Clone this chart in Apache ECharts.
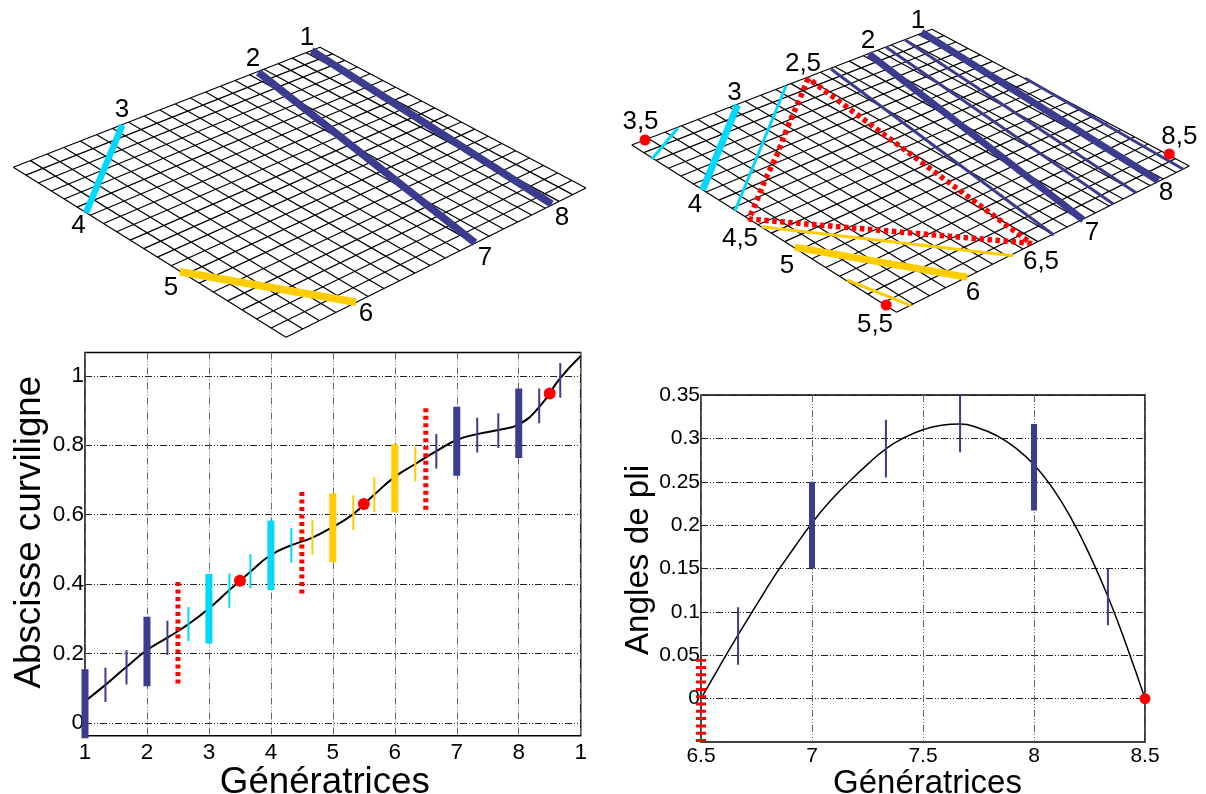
<!DOCTYPE html>
<html><head><meta charset="utf-8">
<style>html,body{margin:0;padding:0;background:#fff}#c{width:1206px;height:794px}</style>
<script src="https://cdn.jsdelivr.net/npm/echarts@6/dist/echarts.min.js"></script>
</head><body><div id="c"></div>
<script>
const BLUE='#3b3b8f',CYAN='#00d8ff',YELLOW='#ffcc00',RED='#ff0000';
const FONT='"Liberation Sans",Arial,sans-serif';

// ---- Abscisse curviligne panel
const xTicksA=[1,2,3,4,5,6,7,8,9];
const xTickLabelsA=['1','2','3','4','5','6','7','8','1'];
const yTicksA=[0,0.2,0.4,0.6,0.8,1];
const curveA=[[1,0.063],[1.33,0.11],[1.67,0.162],[2,0.21],[2.33,0.246],[2.67,0.285],[3,0.33],[3.33,0.383],[3.67,0.436],[4,0.484],[4.33,0.512],[4.67,0.534],[5,0.565],[5.33,0.602],[5.67,0.658],[6,0.709],[6.33,0.746],[6.67,0.783],[7,0.815],[7.33,0.832],[7.67,0.844],[8,0.86],[8.33,0.91],[8.67,0.993],[9,1.057]];
const blueThickA=[[1,-0.044,0.155],[2,0.106,0.306],[7,0.712,0.911],[8,0.763,0.963]];
const cyanThickA=[[3,0.229,0.429],[4,0.383,0.583]];
const yellowThickA=[[5,0.463,0.662],[6,0.606,0.803]];
const blueThinA=[[1.33,0.061,0.159],[1.67,0.111,0.21],[2.33,0.196,0.295],[6.67,0.733,0.832],[7.33,0.779,0.879],[7.67,0.792,0.892],[8.33,0.863,0.963],[8.67,0.937,1.037]];
const cyanThinA=[[2.67,0.236,0.334],[3.33,0.332,0.431],[3.67,0.388,0.487],[4.33,0.462,0.562]];
const yellowThinA=[[4.67,0.485,0.585],[5.33,0.556,0.656],[5.67,0.608,0.708],[6.33,0.696,0.795]];
const redDashA=[[2.5,0.114,0.414],[4.5,0.373,0.673],[6.5,0.614,0.915]];
const redDotsA=[[3.5,0.41],[5.5,0.631],[8.5,0.949]];

// ---- Angles de pli panel
const xTicksB=[6.5,7,7.5,8,8.5];
const yTicksB=[0,0.05,0.1,0.15,0.2,0.25,0.3,0.35];
const curveB=[[6.5,0],[6.583,0.037],[6.667,0.0735],[6.75,0.108],[6.833,0.142],[6.917,0.173],[7,0.2025],[7.083,0.228],[7.167,0.25],[7.25,0.27],[7.333,0.288],[7.417,0.301],[7.5,0.31],[7.583,0.315],[7.667,0.3165],[7.75,0.312],[7.833,0.303],[7.917,0.289],[8,0.2696],[8.083,0.243],[8.167,0.208],[8.25,0.166],[8.333,0.1177],[8.417,0.061],[8.5,0]];
const blueThickB=[[7,0.15,0.25],[8,0.217,0.3165]];
const blueThinB=[[6.667,0.039,0.1054],[7.333,0.255,0.3215],[7.667,0.284,0.35],[8.333,0.0846,0.15]];
const redDashB=[[6.5,-0.05,0.0458]];
const redDotsB=[[8.5,0]];

// ---- Perspective sheets (read in picture units)
const cellsU=20, cellsV=20;
const sheetLeft={left:[13.3,167.3],top:[320,47.3],right:[586,188],bottom:[286,337.3]};
const sheetRight={left:[631.7,145],top:[931.9,29.3],right:[1189.3,166],bottom:[896.5,312.3]};
const leftBlue=[[[311.7,50.7],[551.7,204]],[[258.3,72.3],[475,242.7]]];
const leftCyan=[[[122.3,125],[86,212.7]]];
const leftYellow=[[[180,271.7],[356,302.3]]];
const leftLabels=[['1',307,38],['2',253,59],['3',122,110],['4',78.5,226],['5',171,288],['6',366,314],['7',485,258],['8',562,218]];
const rightBlueThick=[[[921.6,32.3],[1158.3,180.7]],[[869,54],[1083.3,220]]];
const rightCyanThick=[[[737.6,105],[702.6,190]]];
const rightYellowThick=[[[794.8,247.3],[967.3,277.3]]];
const rightBlueThin=[[[1025.2,78.3],[1183.3,169.3]],[[905.2,40],[1136,192.7]],[[886.2,47.3],[1113.3,204]],[[831,69],[1053.8,235]]];
const rightCyanThin=[[[786,86],[735,210.7]],[[677.8,128.3],[651.9,159]]];
const rightYellowThin=[[[761.6,226.7],[1013,255.7]],[[847,280],[911,305.7]]];
const rightRedLoop=[[808.1,78.3],[799.3,100],[789,123.3],[777.6,153.3],[764.3,181.7],[752.9,210],[749,219],[1031,243.3],[808.1,78.3]];
const rightDots=[[645,140],[1169.3,154],[886.2,305]];
const rightLabels=[['1',918,21],['2',868,41],['2,5',803,64],['3',734.6,93],['3,5',640.5,122],['4',695,205],['4,5',740,239],['5',787,266],['6',973,293],['5,5',875,325],['6,5',1041,262],['7',1092,233],['8',1166,193],['8,5',1179.3,137]];

const BREAK=['-','-'];
function bars(rows){const o=[];rows.forEach(r=>o.push([r[0],r[1]],[r[0],r[2]],BREAK));return o;}
function segs(rows){const o=[];rows.forEach(r=>{o.push(...r,BREAK);});return o;}
function meshLines(s){
  // projective map of the unit square onto the four corners
  const [x0,y0]=s.left,[x1,y1]=s.top,[x2,y2]=s.right,[x3,y3]=s.bottom;
  const dx1=x1-x2,dx2=x3-x2,dy1=y1-y2,dy2=y3-y2,sx=x0-x1+x2-x3,sy=y0-y1+y2-y3;
  const den=dx1*dy2-dx2*dy1,g=(sx*dy2-dx2*sy)/den,h=(dx1*sy-sx*dy1)/den;
  const a=x1-x0+g*x1,b=x3-x0+h*x3,d=y1-y0+g*y1,e=y3-y0+h*y3;
  const P=(u,v)=>{const w=g*u+h*v+1;return [(a*u+b*v+x0)/w,(d*u+e*v+y0)/w];};
  const o=[];
  for(let i=0;i<=cellsU;i++){o.push(P(i/cellsU,0),P(i/cellsU,1),BREAK);}
  for(let j=0;j<=cellsV;j++){o.push(P(0,j/cellsV),P(1,j/cellsV),BREAK);}
  return o;
}
function line(idx,data,color,width,extra){
  return Object.assign({type:'line',xAxisIndex:idx,yAxisIndex:idx,data,showSymbol:false,symbol:'none',clip:false,silent:true,
    lineStyle:{color,width,cap:'butt',join:'miter'},animation:false},extra||{});
}
function dash(idx,data,width,pat){
  const s=line(idx,data,RED,width);s.lineStyle.type=pat;s.lineStyle.join='bevel';s.z=4;return s;
}
function dots(idx,data,size){
  return {type:'scatter',xAxisIndex:idx,yAxisIndex:idx,data,symbol:'circle',symbolSize:size,clip:false,silent:true,z:6,itemStyle:{color:RED,opacity:1},animation:false};
}
function labels(data,size){
  return {type:'scatter',xAxisIndex:2,yAxisIndex:2,data:data.map(r=>({value:[r[1],r[2]],name:r[0]})),symbolSize:1,itemStyle:{opacity:0},silent:true,z:7,animation:false,
    label:{show:true,position:'inside',formatter:p=>p.name,fontFamily:FONT,fontSize:size,color:'#000',textBorderWidth:0,opacity:1}};
}
const gridDash=[7,2,1,2,1,2];
function valueX(idx,min,max,ticks,fmt,size,margin,name,gap,pad,nameSize){
  return {type:'value',gridIndex:idx,min,max,position:'bottom',
    axisLine:{show:false},
    axisTick:{show:false,customValues:ticks},
    axisLabel:{show:true,customValues:ticks,formatter:fmt,fontFamily:FONT,fontSize:size,color:'#000',margin,hideOverlap:false},
    splitLine:{show:true,lineStyle:{color:'#666',width:1,type:gridDash}},
    name,nameLocation:'middle',nameGap:gap,nameTextStyle:{fontFamily:FONT,fontSize:nameSize,color:'#000',padding:pad}};
}
function valueY(idx,min,max,ticks,size,margin,name,gap,pad,nameSize){
  return {type:'value',gridIndex:idx,min,max,position:'left',
    axisLine:{show:false},
    axisTick:{show:false,customValues:ticks},
    axisLabel:{show:true,customValues:ticks,fontFamily:FONT,fontSize:size,color:'#000',margin,hideOverlap:false},
    splitLine:{show:true,lineStyle:{color:'#222',width:1,type:gridDash}},
    name,nameLocation:'middle',nameGap:gap,nameTextStyle:{fontFamily:FONT,fontSize:nameSize,color:'#000',padding:pad}};
}
const chart=echarts.init(document.getElementById('c'),null,{renderer:'canvas'});
chart.setOption({
  animation:false,backgroundColor:'#fff',
  grid:[
    {left:85,top:352.5,width:495.7,height:383.3,show:true,borderColor:'#000',borderWidth:1.5,backgroundColor:'transparent',outerBoundsMode:'none',containLabel:false},
    {left:701,top:395,width:444,height:347,show:true,borderColor:'#000',borderWidth:1.5,backgroundColor:'transparent',outerBoundsMode:'none',containLabel:false},
    {left:0,top:0,width:1206,height:794,show:false,outerBoundsMode:'none',containLabel:false}
  ],
  xAxis:[
    valueX(0,1,9,xTicksA,v=>xTickLabelsA[xTicksA.indexOf(v)],22.5,5,'Génératrices',28,[0,16,0,0],36.7),
    valueX(1,6.5,8.5,xTicksB,v=>String(v),21,4,'Génératrices',23,[0,0,0,9],33),
    {type:'value',gridIndex:2,min:0,max:1206,show:false,splitLine:{show:false}}
  ],
  yAxis:[
    valueY(0,-0.0366,1.067,yTicksA,22.5,1,'Abscisse curviligne',34,[0,0,0,24],36.8),
    valueY(1,-0.05,0.35,yTicksB,21,1,'Angles de pli',46,[0,0,0,17],33.2),
    {type:'value',gridIndex:2,min:0,max:794,inverse:true,show:false,splitLine:{show:false}}
  ],
  series:[
    line(2,meshLines(sheetLeft),'#000',1.2),
    line(2,meshLines(sheetRight),'#000',1.2),
    line(2,segs(leftBlue),BLUE,7.5,{z:3}),
    line(2,segs(leftCyan),CYAN,6.5,{z:3}),
    line(2,segs(leftYellow),YELLOW,7.5,{z:3}),
    labels(leftLabels,26),
    line(2,segs(rightBlueThin),BLUE,3,{z:3}),
    line(2,segs(rightBlueThick),BLUE,7,{z:3}),
    line(2,segs(rightCyanThick),CYAN,7,{z:3}),
    line(2,segs(rightYellowThick),YELLOW,7,{z:3}),
    line(2,segs(rightCyanThin),CYAN,3,{z:3}),
    line(2,segs(rightYellowThin),YELLOW,3,{z:3}),
    dash(2,rightRedLoop,5.5,[4.5,3.5]),
    dots(2,rightDots,11),
    labels(rightLabels,26),

    line(0,curveA,'#000',2,{smooth:true,z:2}),
    line(0,bars(blueThickA),BLUE,7,{z:3}),
    line(0,bars(cyanThickA),CYAN,7,{z:3}),
    line(0,bars(yellowThickA),YELLOW,7,{z:3}),
    line(0,bars(blueThinA),BLUE,2,{z:3}),
    line(0,bars(cyanThinA),CYAN,2,{z:3}),
    line(0,bars(yellowThinA),YELLOW,2,{z:3}),
    dash(0,bars(redDashA),5,[4,3.5]),
    dots(0,redDotsA,12),

    line(1,curveB,'#000',1.5,{smooth:true,z:2}),
    line(1,bars(blueThickB),BLUE,6,{z:3}),
    line(1,bars(blueThinB),BLUE,2,{z:3}),
    dash(1,bars(redDashB),10,[3,4.3]),
    dots(1,redDotsB,11)
  ]
});
</script></body></html>
